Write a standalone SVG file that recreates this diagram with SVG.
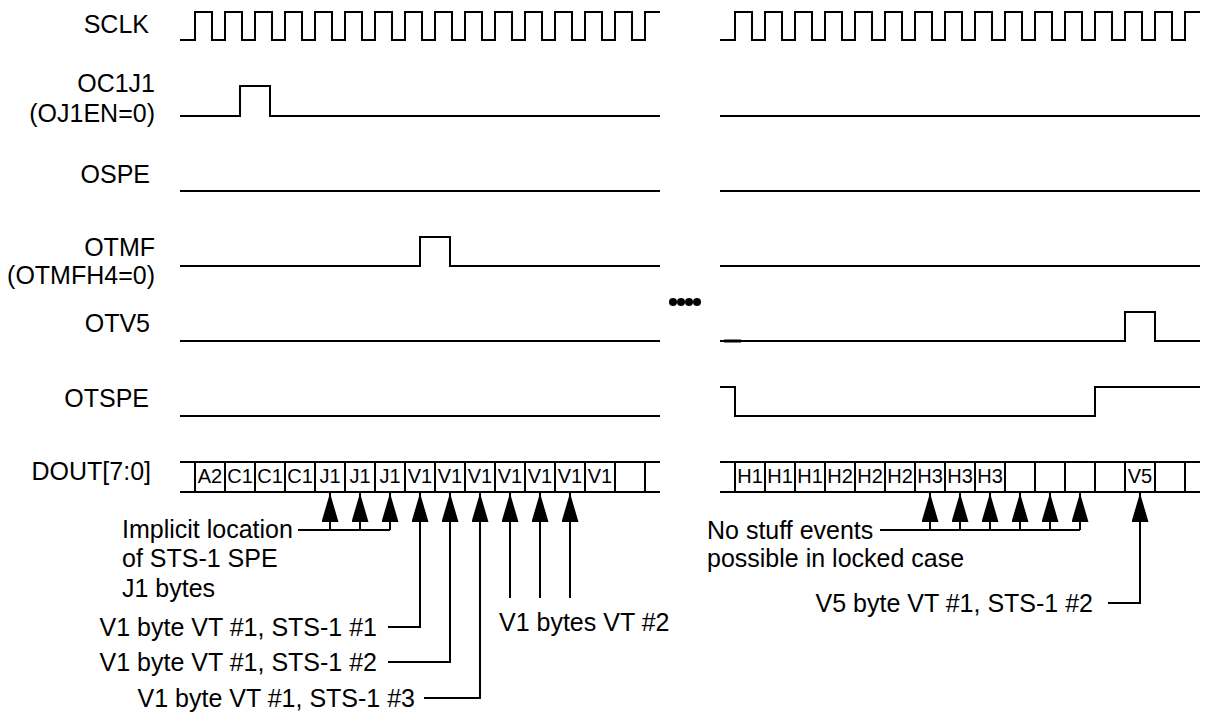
<svg xmlns="http://www.w3.org/2000/svg" width="1208" height="717" viewBox="0 0 1208 717">
<defs>
<style>
.w{fill:none;stroke:#000;stroke-width:2;stroke-linejoin:miter}
.c{fill:none;stroke:#000;stroke-width:2}
.lbl{font-family:"Liberation Sans",Arial,sans-serif;font-size:25px;fill:#000}
.cell{font-family:"Liberation Sans",Arial,sans-serif;font-size:20px;fill:#000;text-anchor:middle}
.r{text-anchor:end}
</style>
<marker id="ah" markerUnits="userSpaceOnUse" viewBox="0 0 29 17" refX="29" refY="8.5" markerWidth="29" markerHeight="17" orient="auto">
<path d="M0,0 L29,8.5 L0,17 z" fill="#000"/>
</marker>
</defs>
<rect width="1208" height="717" fill="#fff"/>

<g id="sclk">
<text class="lbl r" x="149" y="33">SCLK</text>
<path class="w" d="M180,40 H195 V12 H212 V40 H225 V12 H242 V40 H255 V12 H272 V40 H285 V12 H302 V40 H315 V12 H332 V40 H345 V12 H362 V40 H375 V12 H392 V40 H405 V12 H422 V40 H435 V12 H452 V40 H465 V12 H482 V40 H495 V12 H512 V40 H525 V12 H542 V40 H555 V12 H572 V40 H585 V12 H602 V40 H615 V12 H632 V40 H645 V12 H660"/>
<path class="w" d="M720,40 H735 V12 H752 V40 H765 V12 H782 V40 H795 V12 H812 V40 H825 V12 H842 V40 H855 V12 H872 V40 H885 V12 H902 V40 H915 V12 H932 V40 H945 V12 H962 V40 H975 V12 H992 V40 H1005 V12 H1022 V40 H1035 V12 H1052 V40 H1065 V12 H1082 V40 H1095 V12 H1112 V40 H1125 V12 H1142 V40 H1155 V12 H1172 V40 H1185 V12 H1200"/>
</g>

<g id="oc1j1">
<text class="lbl r" x="155" y="92">OC1J1</text>
<text class="lbl r" x="155" y="122">(OJ1EN=0)</text>
<path class="w" d="M180,116 H240 V86 H270 V116 H660"/>
<path class="w" d="M720,116 H1200"/>
</g>

<g id="ospe">
<text class="lbl r" x="150" y="183">OSPE</text>
<path class="w" d="M180,191 H660"/>
<path class="w" d="M720,191 H1200"/>
</g>

<g id="otmf">
<text class="lbl r" x="155" y="256">OTMF</text>
<text class="lbl r" x="155" y="284">(OTMFH4=0)</text>
<path class="w" d="M180,266 H420 V237 H450 V266 H660"/>
<path class="w" d="M720,266 H1200"/>
</g>

<g id="otv5">
<text class="lbl r" x="150" y="332">OTV5</text>
<path class="w" d="M180,341 H660"/>
<path class="w" d="M720,341 H1125 V312 H1155 V341 H1200"/>
<path d="M724,341 H741" stroke="#000" stroke-width="3"/>
</g>

<g id="otspe">
<text class="lbl r" x="149" y="407">OTSPE</text>
<path class="w" d="M180,416 H660"/>
<path class="w" d="M720,387 H735 V416 H1095 V387 H1200"/>
</g>

<g id="ellipsis">
<circle cx="673" cy="302" r="4"/>
<circle cx="681" cy="302" r="4"/>
<circle cx="689" cy="302" r="4"/>
<circle cx="697" cy="302" r="4"/>
</g>

<g id="dout">
<text class="lbl r" x="151" y="480">DOUT[7:0]</text>
<path class="w" d="M180,462 H660 M180,492 H660 M720,462 H1200 M720,492 H1200"/>
<path class="w" d="M195,462 V492 M225,462 V492 M255,462 V492 M285,462 V492 M315,462 V492 M345,462 V492 M375,462 V492 M405,462 V492 M435,462 V492 M465,462 V492 M495,462 V492 M525,462 V492 M555,462 V492 M585,462 V492 M615,462 V492 M645,462 V492"/>
<path class="w" d="M735,462 V492 M765,462 V492 M795,462 V492 M825,462 V492 M855,462 V492 M885,462 V492 M915,462 V492 M945,462 V492 M975,462 V492 M1005,462 V492 M1035,462 V492 M1065,462 V492 M1095,462 V492 M1125,462 V492 M1155,462 V492 M1185,462 V492"/>
<text class="cell" x="210" y="483">A2</text>
<text class="cell" x="240" y="483">C1</text>
<text class="cell" x="270" y="483">C1</text>
<text class="cell" x="300" y="483">C1</text>
<text class="cell" x="330" y="483">J1</text>
<text class="cell" x="360" y="483">J1</text>
<text class="cell" x="390" y="483">J1</text>
<text class="cell" x="420" y="483">V1</text>
<text class="cell" x="450" y="483">V1</text>
<text class="cell" x="480" y="483">V1</text>
<text class="cell" x="510" y="483">V1</text>
<text class="cell" x="540" y="483">V1</text>
<text class="cell" x="570" y="483">V1</text>
<text class="cell" x="600" y="483">V1</text>
<text class="cell" x="750" y="483">H1</text>
<text class="cell" x="780" y="483">H1</text>
<text class="cell" x="810" y="483">H1</text>
<text class="cell" x="840" y="483">H2</text>
<text class="cell" x="870" y="483">H2</text>
<text class="cell" x="900" y="483">H2</text>
<text class="cell" x="930" y="483">H3</text>
<text class="cell" x="960" y="483">H3</text>
<text class="cell" x="990" y="483">H3</text>
<text class="cell" x="1140" y="483">V5</text>
</g>

<g id="annotations">
<text class="lbl" x="122" y="538">Implicit location</text>
<text class="lbl" x="122" y="567">of STS-1 SPE</text>
<text class="lbl" x="122" y="597">J1 bytes</text>
<text class="lbl r" x="377" y="636">V1 byte VT #1, STS-1 #1</text>
<text class="lbl r" x="377" y="671">V1 byte VT #1, STS-1 #2</text>
<text class="lbl r" x="415" y="707">V1 byte VT #1, STS-1 #3</text>
<text class="lbl" x="499" y="631">V1 bytes VT #2</text>
<text class="lbl" x="707" y="539">No stuff events</text>
<text class="lbl" x="707" y="567">possible in locked case</text>
<text class="lbl r" x="1093" y="612">V5 byte VT #1, STS-1 #2</text>
</g>

<g id="connectors">
<path class="c" d="M298,530 H390"/>
<path class="c" d="M330,530 V493" marker-end="url(#ah)"/>
<path class="c" d="M360,530 V493" marker-end="url(#ah)"/>
<path class="c" d="M390,530 V493" marker-end="url(#ah)"/>
<path class="c" d="M388,627 H420 V493" marker-end="url(#ah)"/>
<path class="c" d="M388,662 H450 V493" marker-end="url(#ah)"/>
<path class="c" d="M424,698 H480 V493" marker-end="url(#ah)"/>
<path class="c" d="M510,598 V493" marker-end="url(#ah)"/>
<path class="c" d="M540,598 V493" marker-end="url(#ah)"/>
<path class="c" d="M570,598 V493" marker-end="url(#ah)"/>
<path class="c" d="M880,530 H1080"/>
<path class="c" d="M930,530 V493" marker-end="url(#ah)"/>
<path class="c" d="M960,530 V493" marker-end="url(#ah)"/>
<path class="c" d="M990,530 V493" marker-end="url(#ah)"/>
<path class="c" d="M1020,530 V493" marker-end="url(#ah)"/>
<path class="c" d="M1050,530 V493" marker-end="url(#ah)"/>
<path class="c" d="M1080,530 V493" marker-end="url(#ah)"/>
<path class="c" d="M1108,603 H1140 V493" marker-end="url(#ah)"/>
</g>
</svg>
